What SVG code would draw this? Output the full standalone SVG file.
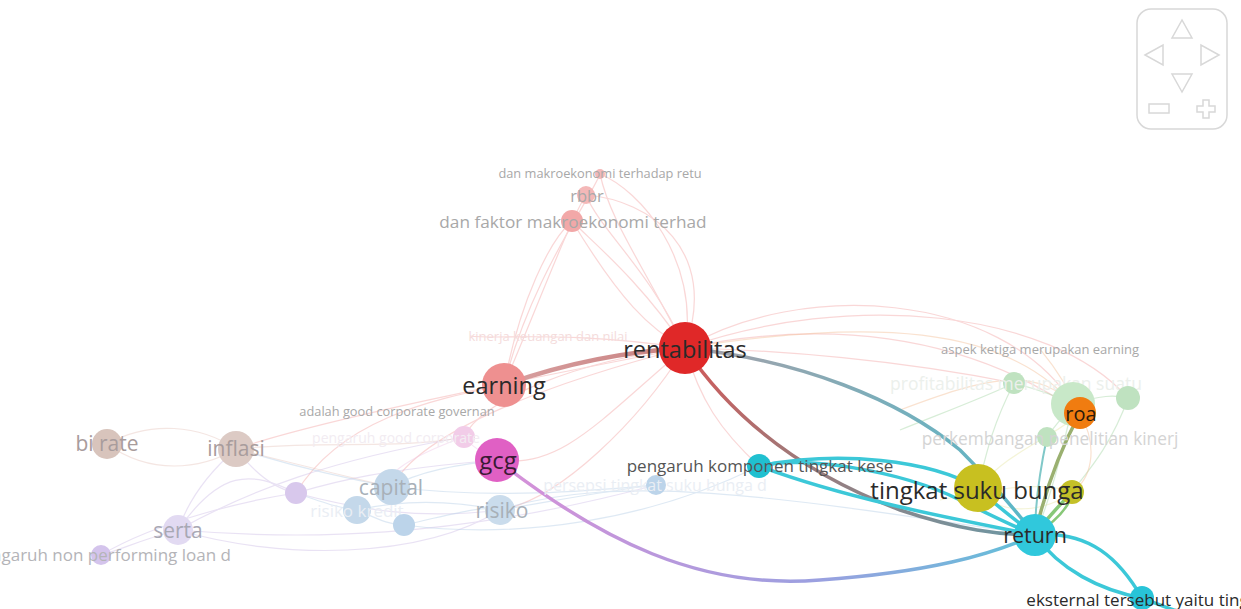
<svg xmlns="http://www.w3.org/2000/svg" width="1241" height="609" viewBox="0 0 1241 609">
<style>
text{font-family:"Open Sans","Noto Sans","DejaVu Sans",sans-serif;text-anchor:middle;dominant-baseline:central}
.dk{fill:#2a2a2a}
.md{fill:#555}
.lt{fill:#a8a8a8}
.vl{fill:#d4d4d4}
.faint{fill:none;stroke-width:1.2;opacity:0.45}
.thick{fill:none;stroke-linecap:round}
.nav{fill:none;stroke:#d8d8d8;stroke-width:1.5}
</style>
<defs>
<linearGradient id="gRet" x1="0" y1="0" x2="1" y2="1"><stop offset="0" stop-color="#d45858"/><stop offset="0.45" stop-color="#a07878"/><stop offset="1" stop-color="#6c98a4"/></linearGradient>
<linearGradient id="gTsb" x1="0" y1="0" x2="1" y2="0"><stop offset="0" stop-color="#a8a0a8"/><stop offset="1" stop-color="#58b8c8"/></linearGradient>
<linearGradient id="gGcg" x1="0" y1="0" x2="1" y2="0"><stop offset="0" stop-color="#d890d8"/><stop offset="0.6" stop-color="#9aa0e0"/><stop offset="1" stop-color="#60c0d8"/></linearGradient>
<linearGradient id="gEarn" x1="0" y1="0" x2="1" y2="0"><stop offset="0" stop-color="#d8a0a0"/><stop offset="1" stop-color="#c88080"/></linearGradient>
</defs>

<g id="connectors">
  <g class="faint" stroke="#f4a8a8">
    <path d="M685,348 C640,260 610,220 600,174"/>
    <path d="M685,348 C650,270 600,230 586,195"/>
    <path d="M685,348 C640,280 590,240 572,221"/>
    <path d="M504,385 C520,300 550,240 572,221"/>
    <path d="M504,385 C540,300 570,220 586,195"/>
    <path d="M504,385 C530,280 590,200 600,174"/>
    <path d="M685,348 C700,260 640,190 600,174"/>
    <path d="M685,348 C720,250 650,200 586,195"/>
    <path d="M685,348 C800,280 1000,290 1073,404"/>
    <path d="M685,348 C820,320 960,330 1080,413"/>
    <path d="M685,348 C780,350 900,360 1014,383"/>
    <path d="M685,348 C850,290 1050,310 1128,398"/>
    <path d="M685,348 C580,360 480,400 464,437"/>
    <path d="M685,348 C560,380 420,430 392,487"/>
    <path d="M685,348 C520,380 320,420 236,449"/>
    <path d="M685,348 C560,330 500,340 470,336"/>
    <path d="M504,385 C430,400 340,420 296,493"/>
    <path d="M685,348 C600,420 560,470 497,460"/>
    <path d="M685,348 C640,420 560,500 500,510"/>
    <path d="M685,348 C700,400 720,430 759,466"/>
    <path d="M572,221 C620,300 650,330 685,348"/>
  </g>
  <g class="faint" stroke="#d0c0e8">
    <path d="M296,493 C250,470 220,470 178,530"/>
    <path d="M296,493 C340,480 380,470 497,460"/>
    <path d="M296,493 C360,510 420,520 500,510"/>
    <path d="M178,530 C140,540 120,550 101,555"/>
    <path d="M178,530 C280,560 420,560 500,510"/>
    <path d="M178,530 C250,490 330,460 464,437"/>
    <path d="M101,555 C160,520 250,500 296,493"/>
    <path d="M236,449 C260,480 280,490 296,493"/>
    <path d="M236,449 C200,480 185,510 178,530"/>
    <path d="M178,530 C300,540 450,540 656,485"/>
  </g>
  <g class="faint" stroke="#b8d0e8">
    <path d="M392,487 C420,470 460,465 497,460"/>
    <path d="M357,510 C400,500 450,500 500,510"/>
    <path d="M404,525 C450,515 480,505 500,510"/>
    <path d="M357,510 C380,520 390,525 404,525"/>
    <path d="M500,510 C560,500 610,490 656,485"/>
    <path d="M392,487 C500,500 600,490 656,485"/>
    <path d="M404,525 C520,540 650,520 759,466"/>
    <path d="M296,493 C330,505 340,508 357,510"/>
    <path d="M500,510 C620,470 800,500 1035,535"/>
    <path d="M392,487 C300,470 260,455 236,449"/>
  </g>
  <g class="faint" stroke="#e8c8c0">
    <path d="M107,444 C150,420 200,425 236,449"/>
    <path d="M107,444 C150,475 200,470 236,449"/>
    <path d="M236,449 C320,440 400,450 464,437"/>
    <path d="M236,449 C320,470 360,480 392,487"/>
  </g>
  <g class="faint" stroke="#f0c8e8">
    <path d="M464,437 C470,445 485,455 497,460"/>
    <path d="M464,437 C400,460 380,480 392,487"/>
  </g>
  <g class="faint" stroke="#a8d8a8">
    <path d="M1014,383 C1040,390 1055,395 1073,404"/>
    <path d="M1073,404 C1100,395 1115,395 1128,398"/>
    <path d="M1047,437 C1055,425 1065,415 1073,404"/>
    <path d="M900,430 C950,410 990,395 1014,383"/>
    <path d="M1073,404 C1060,460 1050,500 1035,535"/>
    <path d="M1128,398 C1110,450 1080,480 1072,492"/>
    <path d="M1014,383 C990,430 985,460 978,488"/>
  </g>
  <g class="faint" stroke="#f4c098">
    <path d="M1080,413 C1060,370 1040,350 1040,349"/>
    <path d="M1080,413 C1010,320 860,320 685,348"/>
    <path d="M900,410 C980,380 1040,360 1080,413"/>
    <path d="M1080,413 C1100,450 1090,480 1072,492"/>
  </g>
  <g class="faint" stroke="#e8e8a8">
    <path d="M978,488 C1010,450 1050,440 1080,413"/>
    <path d="M978,488 C1000,520 1050,510 1072,492"/>
    <path d="M940,500 C990,490 1040,480 1072,492"/>
  </g>

  <path class="thick" d="M504,385 C560,365 620,352 685,348" stroke="url(#gEarn)" stroke-width="4.5"/>
  <path class="thick" d="M685,348 C740,430 820,480 900,510 C960,530 1000,535 1035,535" stroke="url(#gRet)" stroke-width="3.5"/>
  <path class="thick" d="M685,348 C800,360 900,400 960,450 C990,480 1015,510 1035,535" stroke="url(#gTsb)" stroke-width="3.5"/>
  <path class="thick" d="M497,460 C600,540 700,590 820,580 C930,572 990,555 1035,535" stroke="url(#gGcg)" stroke-width="3.5"/>
  <g class="thick" stroke="#3cc8d8" stroke-width="3.5">
    <path d="M759,466 C840,450 930,460 978,488"/>
    <path d="M759,466 C850,500 960,520 1035,535"/>
    <path d="M759,466 C800,455 900,470 960,500 C990,515 1010,525 1035,535"/>
    <path d="M978,488 C995,505 1015,520 1035,535"/>
    <path d="M1035,535 C1090,530 1120,560 1142,598"/>
    <path d="M1035,535 C1060,570 1100,590 1142,598"/>
    <path d="M1142,598 C1160,605 1170,609 1180,612"/>
  </g>
  <path class="thick" d="M1080,413 C1060,450 1045,490 1035,535" stroke="#9ab070" stroke-width="3.5"/>
  <path class="thick" d="M1072,492 C1060,505 1045,520 1035,535" stroke="#88c878" stroke-width="3.5"/>
  <path class="thick" d="M1072,492 C1070,510 1050,525 1035,535" stroke="#88c878" stroke-width="2.5"/>
  <path class="thick" d="M1047,437 C1040,470 1035,500 1035,535" stroke="#80c8c8" stroke-width="2"/>
</g>

<g id="n-dan-makro-retu"><circle cx="600" cy="174" r="5" fill="#f4b8b8"/><text x="600" y="173" font-size="12.8" class="lt">dan makroekonomi terhadap retu</text></g>
<g id="n-rbbr"><circle cx="586" cy="195" r="9" fill="#f4b8b8"/><text x="587" y="195" font-size="16.5" class="lt">rbbr</text></g>
<g id="n-dan-faktor"><circle cx="572" cy="221" r="11" fill="#f2a8a8"/><text x="573" y="221" font-size="17.2" class="lt">dan faktor makroekonomi terhad</text></g>
<g id="n-kinerja"><text x="548" y="336" font-size="13" fill="#f4dcdc">kinerja keuangan dan nilai</text></g>

<g id="n-pink"><circle cx="464" cy="437" r="11" fill="#f2cce8"/><text x="396" y="437" font-size="14" fill="#f2ecf2">pengaruh good corporate</text></g>
<g id="n-adalah"><text x="397" y="411" font-size="12.8" class="lt">adalah good corporate governan</text></g>

<g id="n-bi-rate"><circle cx="107" cy="444" r="15" fill="#d8c4bc"/><text x="107" y="443" font-size="21" fill="#a89c9c">bi rate</text></g>
<g id="n-inflasi"><circle cx="236" cy="449" r="18" fill="#dccac4"/><text x="236" y="448" font-size="21" fill="#a89c9c">inflasi</text></g>
<g id="n-purple"><circle cx="296" cy="493" r="11" fill="#d8c8ec"/></g>
<g id="n-serta"><circle cx="178" cy="530" r="15" fill="#e2daf2"/><text x="178" y="530" font-size="21" fill="#a8a8b4">serta</text></g>
<g id="n-npl"><circle cx="101" cy="555" r="10" fill="#d4c4ec"/><text x="101" y="554" font-size="17" fill="#b4b4b8">pengaruh non performing loan d</text></g>

<g id="n-capital"><circle cx="392" cy="487" r="18" fill="#c4d8ea"/><text x="391" y="487" font-size="21" fill="#a8b0b8">capital</text></g>
<g id="n-risiko-b"><circle cx="357" cy="510" r="14" fill="#c4d8ea"/><text x="357" y="510" font-size="17" fill="#eaeef4">risiko kredit</text></g>
<g id="n-blue2"><circle cx="404" cy="525" r="11" fill="#bcd4ea"/></g>
<g id="n-risiko"><circle cx="500" cy="510" r="15" fill="#cadcec"/><text x="502" y="510" font-size="21" fill="#a8b0b8">risiko</text></g>
<g id="n-persepsi"><circle cx="656" cy="485" r="10" fill="#bcd4ea"/><text x="655" y="485" font-size="16" fill="#eaeef4">persepsi tingkat suku bunga d</text></g>

<g id="n-earning"><circle cx="504" cy="385" r="22" fill="#ee9090"/><text x="504" y="385" font-size="23.5" class="dk">earning</text></g>
<g id="n-rentabilitas"><circle cx="685" cy="348" r="26" fill="#e02828"/><text x="685" y="349" font-size="23.5" class="dk">rentabilitas</text></g>
<g id="n-gcg"><circle cx="497" cy="460" r="22" fill="#e060c4"/><text x="498" y="459" font-size="24" fill="#3a1a34">gcg</text></g>

<g id="n-pengaruh"><circle cx="759" cy="466" r="12" fill="#20c0d0"/><text x="760" y="465" font-size="17" class="md">pengaruh komponen tingkat kese</text></g>

<g id="n-aspek"><text x="1040" y="349" font-size="13" class="lt">aspek ketiga merupakan earning</text></g>
<g id="n-profit"><circle cx="1014" cy="383" r="11" fill="#bfe2c0"/><text x="1016" y="383" font-size="17.5" fill="#ecf0ec">profitabilitas merupakan suatu</text></g>
<g id="n-green-big"><circle cx="1073" cy="404" r="22" fill="#c8e8c8"/></g>
<g id="n-green-r"><circle cx="1128" cy="398" r="12" fill="#bfe2c0"/></g>
<g id="n-perkembangan"><circle cx="1047" cy="437" r="10" fill="#bfe2c0"/><text x="1050" y="438" font-size="17.3" class="vl">perkembangan penelitian kinerj</text></g>
<g id="n-roa"><circle cx="1080" cy="413" r="16" fill="#f07c10"/><text x="1081" y="413" font-size="20" fill="#2a1a0a">roa</text></g>

<g id="n-olive"><circle cx="1072" cy="492" r="12" fill="#c4c028"/></g>
<g id="n-tsb"><circle cx="978" cy="488" r="24" fill="#c8c020"/><text x="977" y="489" font-size="24" class="dk">tingkat suku bunga</text></g>
<g id="n-return"><circle cx="1035" cy="535" r="21" fill="#30c8dc"/><text x="1035" y="534" font-size="21.5" class="dk">return</text></g>
<g id="n-eksternal"><circle cx="1142" cy="598" r="12" fill="#28c4d8"/><text x="1142" y="599" font-size="17" class="dk">eksternal tersebut yaitu tingk</text></g>

<g id="nav-control">
  <rect x="1137" y="9" width="90" height="120" rx="14" class="nav"/>
  <polygon points="1182,20 1172,38 1192,38" class="nav"/>
  <polygon points="1145,55 1163,45 1163,65" class="nav"/>
  <polygon points="1219,55 1201,45 1201,65" class="nav"/>
  <polygon points="1182,92 1172,74 1192,74" class="nav"/>
  <rect x="1149" y="104" width="20" height="9" class="nav"/>
  <polygon points="1203,100 1209,100 1209,106 1215,106 1215,112 1209,112 1209,118 1203,118 1203,112 1197,112 1197,106 1203,106" class="nav"/>
</g>
</svg>
